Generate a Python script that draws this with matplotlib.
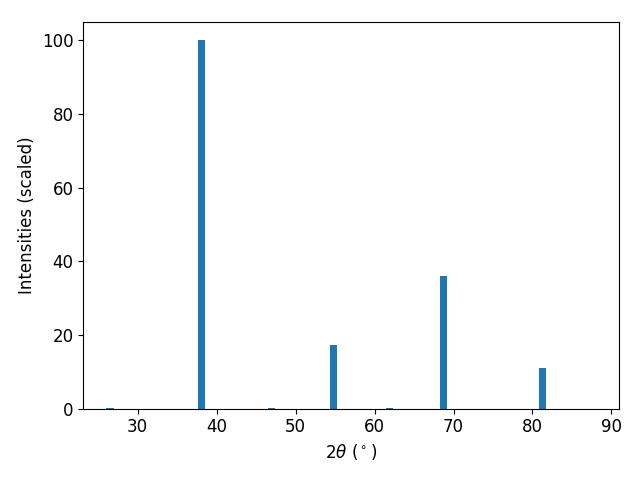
import matplotlib
matplotlib.use("Agg")
import matplotlib.pyplot as plt

two_theta = [26.5, 38.1, 46.95, 54.85, 61.9, 68.7, 81.25]
intensity = [0.3, 100.0, 0.3, 17.4, 0.3, 35.9, 11.1]

plt.rcParams['font.size'] = 12

fig, ax = plt.subplots(figsize=(6.4, 4.8), dpi=100)
ax.bar(two_theta, intensity, width=0.9, color='#1f77b4')
ax.set_xlim(23.1, 91.0)
ax.set_xlabel(r"$2\theta$ ($^\circ$)")
ax.set_ylabel("Intensities (scaled)")
fig.subplots_adjust(left=0.130, right=0.9677, top=0.9548, bottom=0.1485)
plt.savefig("out.png", dpi=100)
